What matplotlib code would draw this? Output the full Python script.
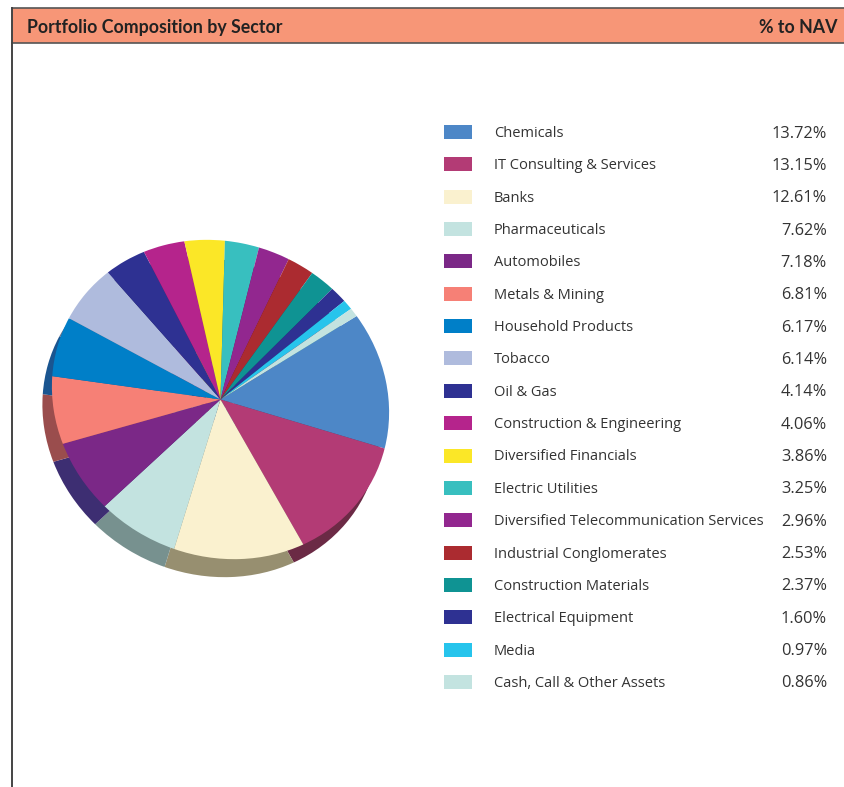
import matplotlib
matplotlib.use("Agg")
import matplotlib.pyplot as plt
from matplotlib.patches import Rectangle
from matplotlib.transforms import Affine2D

sectors = ["Chemicals", "IT Consulting & Services", "Banks", "Pharmaceuticals", "Automobiles",
           "Metals & Mining", "Household Products", "Tobacco", "Oil & Gas", "Construction & Engineering",
           "Diversified Financials", "Electric Utilities", "Diversified Telecommunication Services",
           "Industrial Conglomerates", "Construction Materials", "Electrical Equipment", "Media",
           "Cash, Call & Other Assets"]
values = [13.72, 13.15, 12.61, 7.62, 7.18, 6.81, 6.17, 6.14, 4.14, 4.06, 3.86, 3.25, 2.96, 2.53, 2.37, 1.60, 0.97, 0.86]
colors = ["#4d87c7", "#b33b75", "#faf1cf", "#c3e3e0", "#7b2887", "#f68076", "#007fc8", "#afbbdd", "#2e3192",
          "#b5248c", "#fbe727", "#38bfbf", "#92278f", "#ab2b30", "#0f9393", "#2e3192", "#26c4ec", "#c3e3e0"]
shadow = ["#2e5178", "#6b2a45", "#978f70", "#77918f", "#3d2e72", "#9a4d4d", "#1a5590", "#69708a", "#1c1d58",
          "#6d1654", "#978b17", "#227373", "#581757", "#671a1d", "#095858", "#1c1d58", "#17768e", "#77918f"]
title = "Portfolio Composition by Sector"
right_title = "% to NAV"

W, H = 845, 787
fig = plt.figure(figsize=(W/100, H/100), dpi=100)

# overlay in pixel coordinates for the header and the legend
bg = fig.add_axes([0, 0, 1, 1])
bg.set_xlim(0, W)
bg.set_ylim(H, 0)
bg.axis("off")

bg.add_patch(Rectangle((12, 8), W - 12, 35, fc="#f79677", ec="none"))
bg.plot([12, W], [8, 8], color="#555555", lw=1.2)
bg.plot([12, W], [43, 43], color="#555555", lw=1.2)
bg.plot([12, 12], [8, H], color="#444444", lw=1.4)
bg.text(27, 27.5, title, fontsize=12.8, fontweight="bold", family="Lato", color="#222222", va="center")
bg.text(838, 27.5, right_title, fontsize=12.8, fontweight="bold", family="Lato", color="#222222",
        va="center", ha="right")

for i, (name, val, c) in enumerate(zip(sectors, values, colors)):
    y = 132 + i * 32.35
    bg.add_patch(Rectangle((444, y - 7), 28, 14, fc=c, ec="none"))
    bg.text(494, y + 1.5, name, fontsize=10.5, family="Open Sans", color="#333333", va="center")
    bg.text(827, y + 1.5, "%.2f%%" % val, fontsize=11.8, family="Open Sans", color="#333333", va="center", ha="right")

# the pie in the picture is a tilted ellipse, so the wedges go through a display transform
def pie_layer(cx, cy, cols):
    ax = fig.add_axes([0, 0, 1, 1])
    wedges, _ = ax.pie(values, colors=cols, startangle=33.9, counterclock=False, radius=1,
                       wedgeprops={"linewidth": 0})
    tilt = Affine2D().rotate_deg(28).scale(172, 156).rotate_deg(-28).translate(cx, H - cy)
    for w in wedges:
        w.set_transform(tilt)
        w.set_clip_on(False)
    ax.patch.set_alpha(0)

pie_layer(211, 417.5, shadow)
pie_layer(220.5, 399.5, colors)

fig.savefig("out.png", dpi=100)
